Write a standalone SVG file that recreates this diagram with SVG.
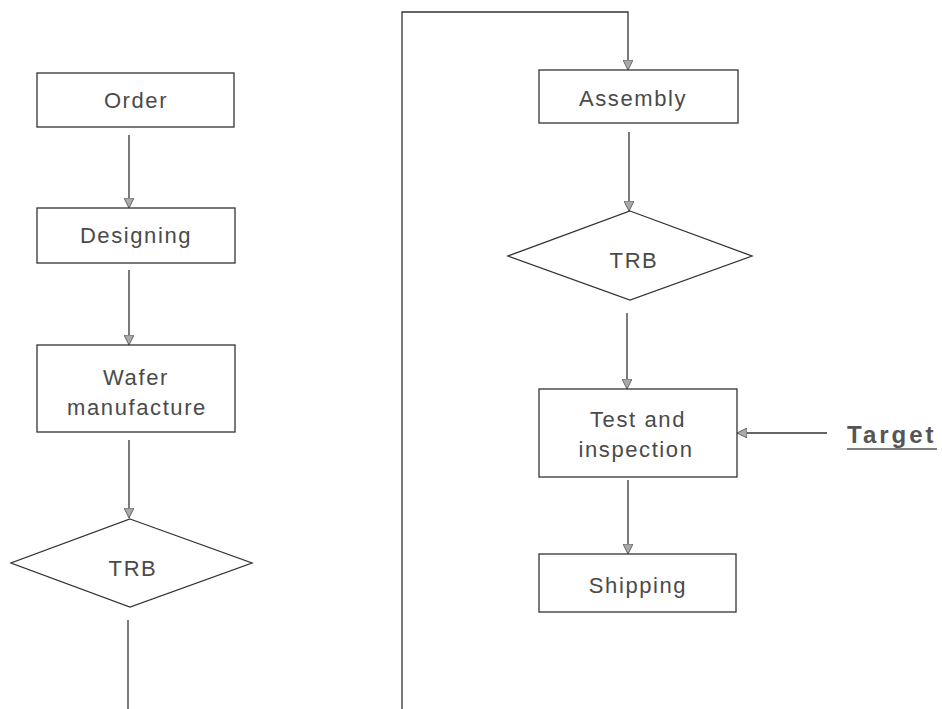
<svg xmlns="http://www.w3.org/2000/svg" width="942" height="709" viewBox="0 0 942 709">
<style>
.box{fill:#fff;stroke:#333;stroke-width:1.3}
.lbl{font-family:"Liberation Sans",Arial,sans-serif;font-size:22px;letter-spacing:1.6px;fill:#4a4a4a;text-anchor:middle}
.trb{font-size:22px}
.con{fill:none;stroke:#333;stroke-width:1.3}
.tgt{font-family:"Liberation Sans",Arial,sans-serif;font-size:24px;font-weight:bold;letter-spacing:3px;fill:#555}
</style>
<defs>
<marker id="ah" viewBox="0 0 10 10" refX="10" refY="5" markerWidth="10" markerHeight="10" markerUnits="userSpaceOnUse" orient="auto">
<path d="M0,0 L10,5 L0,10 z" fill="#aaa" stroke="#666" stroke-width="1"/>
</marker>
</defs>
<rect width="942" height="709" fill="#fff"/>
<g id="connectors">
<line class="con" x1="129" y1="135" x2="129" y2="208" marker-end="url(#ah)"/>
<line class="con" x1="129" y1="270" x2="129" y2="345" marker-end="url(#ah)"/>
<line class="con" x1="129" y1="440" x2="129" y2="518" marker-end="url(#ah)"/>
<line class="con" x1="128" y1="620" x2="128" y2="709"/>
<path class="con" d="M402,709 V12 H628 V70" marker-end="url(#ah)"/>
<line class="con" x1="629" y1="132" x2="629" y2="211" marker-end="url(#ah)"/>
<line class="con" x1="627" y1="313" x2="627" y2="389" marker-end="url(#ah)"/>
<line class="con" x1="628" y1="480" x2="628" y2="554" marker-end="url(#ah)"/>
<line class="con" x1="827" y1="433" x2="737" y2="433" marker-end="url(#ah)"/>
</g>
<g id="order"><rect class="box" x="37" y="73" width="197" height="54"/><text class="lbl" x="136" y="108">Order</text></g>
<g id="designing"><rect class="box" x="37" y="208" width="198" height="55"/><text class="lbl" x="136" y="243">Designing</text></g>
<g id="wafer"><rect class="box" x="37" y="345" width="198" height="87"/><text class="lbl" x="136" y="385">Wafer</text><text class="lbl" x="137" y="415">manufacture</text></g>
<g id="trb1"><polygon class="box" points="130,519 252,563 130,607 11,563"/><text class="lbl trb" x="133" y="576">TRB</text></g>
<g id="assembly"><rect class="box" x="539" y="70" width="199" height="53"/><text class="lbl" x="633" y="106">Assembly</text></g>
<g id="trb2"><polygon class="box" points="630,211 752,256 630,300 508,256"/><text class="lbl trb" x="634" y="268">TRB</text></g>
<g id="test"><rect class="box" x="539" y="389" width="198" height="88"/><text class="lbl" x="638" y="427">Test and</text><text class="lbl" x="636" y="457">inspection</text></g>
<g id="shipping"><rect class="box" x="539" y="554" width="197" height="58"/><text class="lbl" x="638" y="593">Shipping</text></g>
<g id="target"><text class="tgt" x="847" y="443">Target</text><line x1="847" y1="449" x2="937" y2="449" stroke="#555" stroke-width="1.3"/></g>
</svg>
